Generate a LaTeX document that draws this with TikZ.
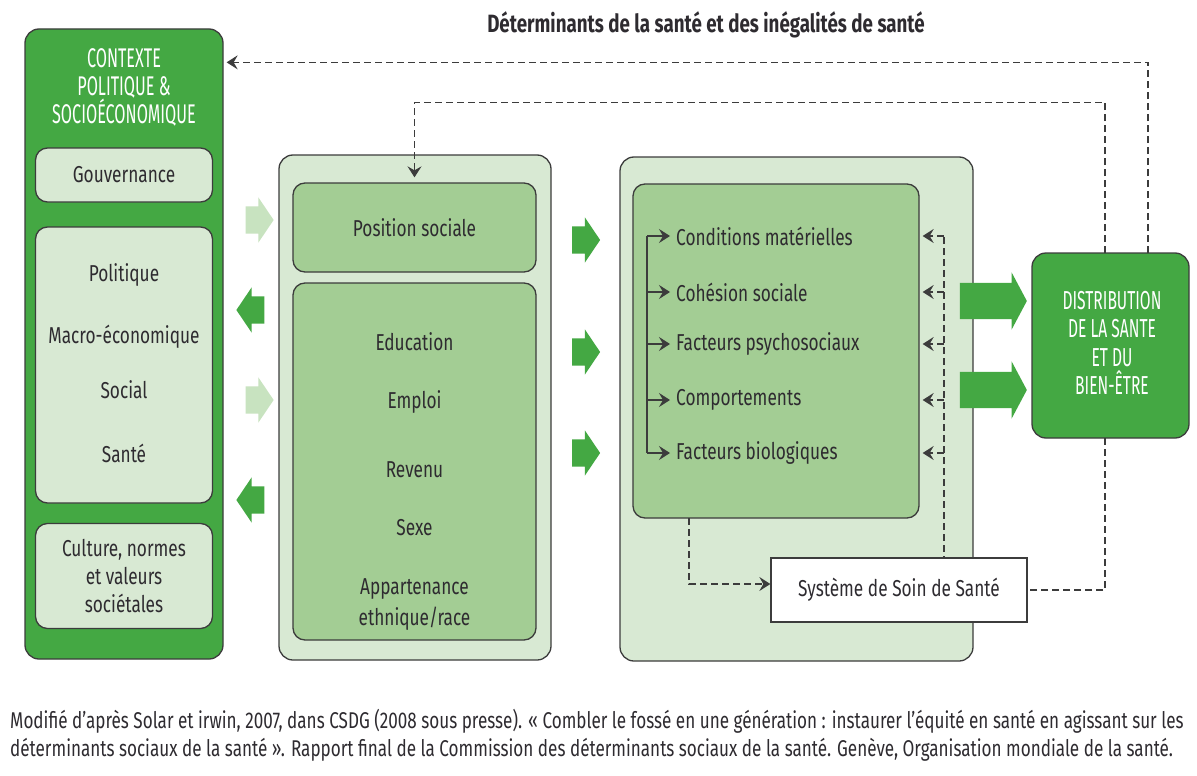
\documentclass[tikz,border=0pt]{standalone}
\usepackage{fontspec}
\setmainfont[FakeStretch=0.75]{Fira Sans}
\newfontfamily\capsfont[FakeStretch=0.6]{Fira Sans}
\usepackage{tikz}
\usetikzlibrary{positioning,calc,arrows.meta,shapes.arrows}
\definecolor{DarkGreen}{HTML}{44A843}
\definecolor{PaleGreen}{HTML}{D8E9D3}
\definecolor{MidGreen}{HTML}{A3CD94}
\definecolor{LightArrow}{HTML}{C8E3C0}
\definecolor{BoxLine}{HTML}{3C3C3C}
\definecolor{TextGray}{HTML}{2E2B30}

\begin{document}
\begin{tikzpicture}[
x=1pt, y=-1pt,
every node/.style={text=TextGray, font=\fontsize{23}{27}\selectfont},
OuterBox/.style={draw=BoxLine, fill=PaleGreen, rounded corners=14, line width=1.3, inner sep=0},
InnerBox/.style={draw=BoxLine, fill=MidGreen, rounded corners=12, line width=1.3, inner sep=0},
PaleBox/.style={draw=BoxLine, fill=PaleGreen, rounded corners=12, line width=1.3, inner sep=0},
GreenBox/.style={draw=BoxLine, fill=DarkGreen, rounded corners=14, line width=1.3, inner sep=0},
WhiteText/.style={text=white, align=center, font=\capsfont\fontsize{27}{28}\selectfont},
Item/.style={anchor=west, inner sep=1pt},
FatArrow/.style={single arrow, draw=none, fill=DarkGreen, inner xsep=0pt, inner ysep=13.5pt, minimum height=28, single arrow head extend=9, single arrow tip angle=112},
PaleArrow/.style={FatArrow, fill=LightArrow},
BigArrow/.style={FatArrow, inner ysep=18pt, minimum height=67, single arrow head extend=10.5, single arrow tip angle=124},
DashLine/.style={draw=BoxLine, line width=1.4, dash pattern=on 7pt off 4pt},
Tip/.style={-{Stealth[length=11pt, width=14pt, inset=4pt]}}
]
\useasboundingbox[fill=white] (0,0) rectangle (1197,776);

% title
\node[font=\bfseries\fontsize{25}{28}\selectfont] (Title) at (706,25) {Déterminants de la santé et des inégalités de santé};

% left column
\node[GreenBox, minimum width=198, minimum height=630] (Context) at (124,344) {};
\node[WhiteText] (ContextTitle) at (124,87) {CONTEXTE\\POLITIQUE \&\\SOCIOÉCONOMIQUE};
\node[PaleBox, minimum width=177, minimum height=54] (Gouv) at (124,175) {Gouvernance};
\node[PaleBox, minimum width=177, minimum height=276] (Policies) at (124,365) {};
\node (Politique) at (124,275) {Politique};
\node (Macro) at (124,337) {Macro-économique};
\node (Social) at (124,390) {Social};
\node (SantePol) at (124,453) {Santé};
\node[PaleBox, minimum width=177, minimum height=105, align=center, font=\fontsize{23}{28}\selectfont] (Culture) at (124,576) {Culture, normes\\et valeurs\\sociétales};

% arrows left
\node[PaleArrow] (ArrowA) at (255,220) {};
\node[FatArrow, shape border rotate=180] (ArrowB) at (255,310) {};
\node[PaleArrow] (ArrowC) at (255,400) {};
\node[FatArrow, shape border rotate=180] (ArrowD) at (255,500) {};

% middle column
\node[OuterBox, minimum width=272, minimum height=505] (Middle) at (415,407.5) {};
\node[InnerBox, minimum width=243, minimum height=89] (PosSoc) at (414.5,227.5) {Position sociale};
\node[InnerBox, minimum width=243, minimum height=357] (Strata) at (414.5,461.5) {};
\node (Education) at (414.5,342) {Education};
\node (Emploi) at (414.5,402) {Emploi};
\node (Revenu) at (414.5,470) {Revenu};
\node (Sexe) at (414.5,528) {Sexe};
\node[align=center, font=\fontsize{23}{31}\selectfont] (Ethnie) at (414.5,605) {Appartenance\\ethnique/race};

% arrows middle
\node[FatArrow] (ArrowE) at (581.5,240) {};
\node[FatArrow] (ArrowF) at (581.5,352) {};
\node[FatArrow] (ArrowG) at (581.5,453) {};

% right column
\node[OuterBox, minimum width=353, minimum height=504] (Right) at (796.5,409) {};
\node[InnerBox, minimum width=286, minimum height=334] (Inter) at (776,351) {};
\node[Item] (Cond) at (675,236) {Conditions matérielles};
\node[Item] (Cohesion) at (675,292) {Cohésion sociale};
\node[Item] (Psycho) at (675,344) {Facteurs psychosociaux};
\node[Item] (Comport) at (675,400) {Comportements};
\node[Item] (Bio) at (675,453) {Facteurs biologiques};
\node[draw=BoxLine, fill=white, line width=1.3, minimum width=256, minimum height=64] (Systeme) at (899,590) {Système de Soin de Santé};

% big arrows and outcome
\node[BigArrow] (ArrowH) at (988.5,301) {};
\node[BigArrow] (ArrowI) at (988.5,390) {};
\node[GreenBox, minimum width=157, minimum height=185] (Distr) at (1110.5,345.5) {};
\node[WhiteText, font=\capsfont\fontsize{26}{28.5}\selectfont] (DistrText) at (1112,343) {DISTRIBUTION\\DE LA SANTE\\ET DU\\BIEN-ÊTRE};

% bracket
\coordinate (BrTop) at (647,236);
\coordinate (BrBot) at (647,453);
\draw[BoxLine, line width=1.3] (BrTop) -- (BrBot);
\draw[BoxLine, line width=1.3, Tip, shorten >=5] (BrTop) -- (Cond.west);
\draw[BoxLine, line width=1.3, Tip, shorten >=5] (BrTop |- Cohesion) -- (Cohesion.west);
\draw[BoxLine, line width=1.3, Tip, shorten >=5] (BrTop |- Psycho) -- (Psycho.west);
\draw[BoxLine, line width=1.3, Tip, shorten >=5] (BrTop |- Comport) -- (Comport.west);
\draw[BoxLine, line width=1.3, Tip, shorten >=5] (BrBot) -- (Bio.west);

% feedback from the health system
\coordinate (Back) at (944,237);
\draw[DashLine] (Back) -- (Back |- Systeme.north);
\draw[DashLine, Tip, shorten >=3] (Back |- Cond) -- (Inter.east |- Cond);
\draw[DashLine, Tip, shorten >=3] (Back |- Cohesion) -- (Inter.east |- Cohesion);
\draw[DashLine, Tip, shorten >=3] (Back |- Psycho) -- (Inter.east |- Psycho);
\draw[DashLine, Tip, shorten >=3] (Back |- Comport) -- (Inter.east |- Comport);
\draw[DashLine, Tip, shorten >=3] (Back |- Bio) -- (Inter.east |- Bio);

\coordinate (InterBot) at (689,518);
\draw[DashLine, Tip] (InterBot) |- ($(Systeme.west)+(0,-6)$);

% feedback loops
\coordinate (DistrTopL) at (1105,253);
\coordinate (DistrTopR) at (1148,253);
\coordinate (DistrBotL) at (1105,438);
\draw[DashLine, Tip, shorten >=3] (DistrTopR) |- ($(Context.north east)+(0,34)$);
\draw[DashLine, Tip, shorten >=5] (DistrTopL) |- ($(PosSoc.north)+(0,-80)$) -- (PosSoc.north);
\draw[DashLine] (DistrBotL) |- (Systeme.east);

% source
\node[anchor=north west, align=left, inner sep=0, font=\fontsize{22.8}{28}\selectfont] (Source) at (10,709) {Modifié d’après Solar et irwin, 2007, dans CSDG (2008 sous presse). « Combler le fossé en une génération : instaurer l’équité en santé en agissant sur les\\déterminants sociaux de la santé ». Rapport final de la Commission des déterminants sociaux de la santé. Genève, Organisation mondiale de la santé.};

\end{tikzpicture}
\end{document}
